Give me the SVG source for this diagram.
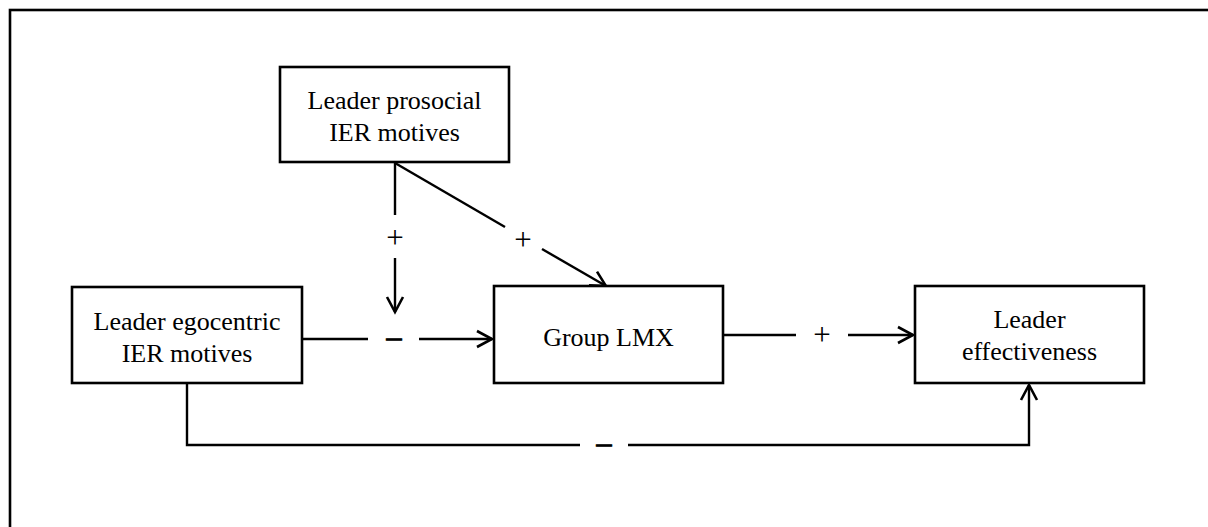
<svg xmlns="http://www.w3.org/2000/svg" width="1208" height="527" viewBox="0 0 1208 527">
<style>
.box{fill:#fff;stroke:#000;stroke-width:2.6}
.t{font-family:"Liberation Serif","Times New Roman",serif;font-size:26px;fill:#000;text-anchor:middle}
.ln{fill:none;stroke:#000;stroke-width:2.4}
.sg{font-family:"Liberation Serif","Times New Roman",serif;font-size:31px;fill:#000;text-anchor:middle}
.mn{font-family:"Liberation Serif","Times New Roman",serif;font-size:30px;fill:#000;stroke:#000;stroke-width:1;text-anchor:middle}
</style>
<defs>
<marker id="arr" markerUnits="userSpaceOnUse" markerWidth="24" markerHeight="24" viewBox="-20 -12 24 24" refX="0" refY="0" orient="auto">
<path d="M-15,-8 L0,0 L-15,8" fill="none" stroke="#000" stroke-width="2.6"/>
</marker>
</defs>
<rect x="0" y="0" width="1208" height="527" fill="#fff"/>
<rect x="10" y="10" width="1230" height="560" fill="none" stroke="#000" stroke-width="2.6"/>
<g id="connectors">
<line class="ln" x1="395" y1="163" x2="395" y2="215"/>
<line class="ln" x1="395" y1="258" x2="395" y2="312" marker-end="url(#arr)"/>
<text class="sg" x="395" y="248">+</text>
<line class="ln" x1="395" y1="163" x2="505" y2="227"/>
<line class="ln" x1="542" y1="249" x2="606" y2="286" marker-end="url(#arr)"/>
<text class="sg" x="523" y="250">+</text>
<line class="ln" x1="302" y1="339" x2="368" y2="339"/>
<line class="ln" x1="419" y1="339" x2="492" y2="339" marker-end="url(#arr)"/>
<text class="mn" x="394" y="347">–</text>
<line class="ln" x1="723" y1="335" x2="796" y2="335"/>
<line class="ln" x1="848" y1="335" x2="913" y2="335" marker-end="url(#arr)"/>
<text class="sg" x="822" y="345">+</text>
<path class="ln" d="M187,383 L187,445 L580,445"/>
<path class="ln" d="M628,445 L1029,445 L1029,385" marker-end="url(#arr)"/>
<text class="mn" x="604" y="453">–</text>
</g>
<g id="prosocial">
<rect class="box" x="280" y="67" width="229" height="95"/>
<text class="t" x="394.5" y="109">Leader prosocial</text>
<text class="t" x="394.5" y="141">IER motives</text>
</g>
<g id="egocentric">
<rect class="box" x="72" y="287" width="230" height="96"/>
<text class="t" x="187" y="330">Leader egocentric</text>
<text class="t" x="187" y="362">IER motives</text>
</g>
<g id="glmx">
<rect class="box" x="494" y="286" width="229" height="97"/>
<text class="t" x="608.5" y="346">Group LMX</text>
</g>
<g id="effectiveness">
<rect class="box" x="915" y="286" width="229" height="97"/>
<text class="t" x="1029.5" y="328">Leader</text>
<text class="t" x="1029.5" y="360">effectiveness</text>
</g>
</svg>
